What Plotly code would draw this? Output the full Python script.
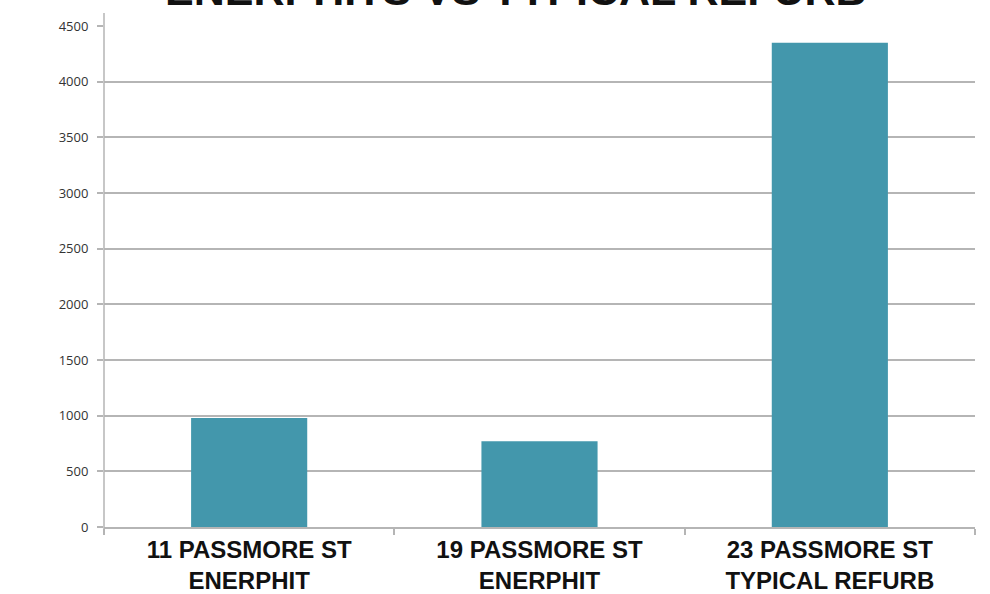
import plotly.graph_objects as go

categories = ["11 PASSMORE ST<br>ENERPHIT", "19 PASSMORE ST<br>ENERPHIT", "23 PASSMORE ST<br>TYPICAL REFURB"]
values = [980, 770, 4350]
y_ticks = [0, 500, 1000, 1500, 2000, 2500, 3000, 3500, 4000, 4500]
title_text = "ENERPHITS VS TYPICAL REFURB"

grid_col = "#b5b5b5"

fig = go.Figure(go.Bar(x=categories, y=values, marker=dict(color="#4397AC", line=dict(width=0)), width=0.4))

fig.update_layout(
    width=990, height=594,
    margin=dict(l=104, r=15, t=26, b=67),
    paper_bgcolor="white", plot_bgcolor="white",
    showlegend=False,
    bargap=0.6,
    font=dict(family="Liberation Sans, Arial, sans-serif"),
)
fig.update_yaxes(
    range=[0, 4500], tickvals=y_ticks, ticktext=[str(v) for v in y_ticks],
    showgrid=True, gridcolor=grid_col, gridwidth=1.5,
    showline=False, zeroline=False, automargin=False,
    ticks="outside", ticklen=6, tickcolor=grid_col, tickwidth=1.5,
    tickfont=dict(family="Open Sans, sans-serif", size=13, color="#333333"),
    ticklabelstandoff=6,
)
fig.update_xaxes(
    showgrid=False, showline=True, linecolor=grid_col, linewidth=1.5, automargin=False,
    ticks="outside", tickson="boundaries", ticklen=6, tickcolor=grid_col, tickwidth=1.5,
    tickfont=dict(family="Liberation Sans, Arial, sans-serif", size=24, color="#111111"),
    range=[-0.5, 2.5], tickprefix="<b>", ticksuffix="</b>",
)
# y axis line extending slightly beyond the plot area
fig.add_shape(type="line", xref="paper", yref="paper", x0=0, x1=0, y0=-0.012, y1=1.026,
              line=dict(color=grid_col, width=1.5))
fig.add_annotation(text="<b>" + title_text + "</b>", xref="paper", yref="paper",
                   x=0.473, y=1.0, yanchor="bottom", showarrow=False, yshift=10,
                   font=dict(size=43, color="#111111", family="Liberation Sans, Arial, sans-serif"))

fig.write_html("out.html", post_script="document.body.style.margin='0';",
               config={"displayModeBar": False})
